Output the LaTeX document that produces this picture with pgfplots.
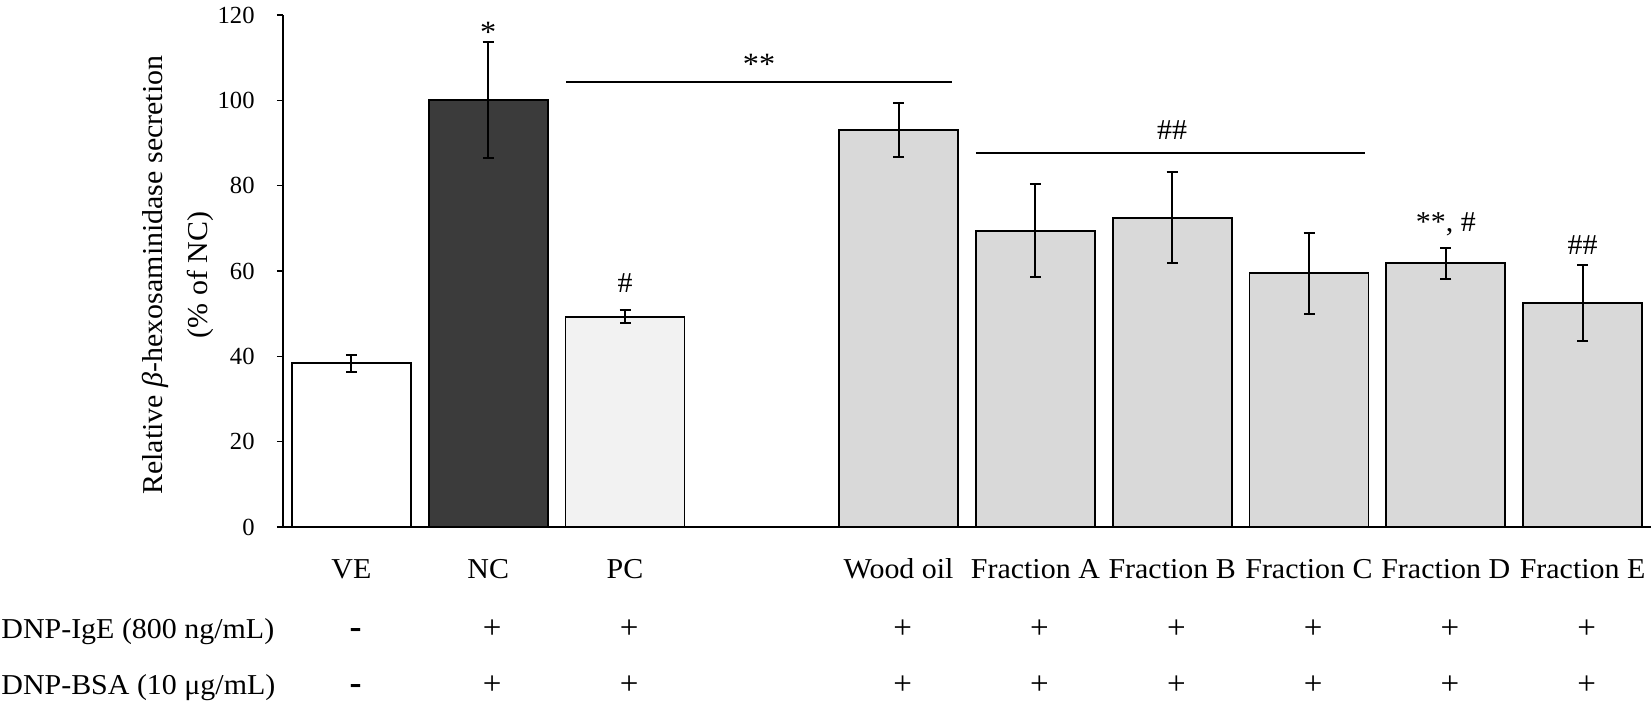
\documentclass[border=0pt]{standalone}
\usepackage{pgfplots}
\pgfplotsset{compat=1.18}
\usepackage{fontspec}
\setmainfont{Liberation Serif}
\newfontfamily\lblfont{Liberation Serif}[FakeStretch=1.04]
\newcommand{\lbl}{\lblfont\fontsize{14.4}{16}\selectfont}
\definecolor{ncgray}{HTML}{3B3B3B}
\definecolor{pcgray}{HTML}{F2F2F2}
\definecolor{frgray}{HTML}{D9D9D9}
\begin{document}
\begin{tikzpicture}
\begin{axis}[name=ax, scale only axis, width=684pt, height=256pt,
  xmin=-0.5, xmax=9.5, ymin=0, ymax=120,
  axis x line*=bottom, axis y line*=left,
  axis line style={line width=0.8pt, -},
  ytick={0,20,...,120}, tick align=outside, major tick length=3pt,
  ytick style={line width=0.8pt, black},
  xtick={0,1,2,4,5,6,7,8,9},
  xticklabels={VE,NC,PC,Wood oil,Fraction A,Fraction B,Fraction C,Fraction D,Fraction E},
  xtick style={draw=none},
  /pgf/number format/assume math mode=true,
  yticklabel style={font=\fontsize{12.3}{14}\selectfont, inner sep=0pt, xshift=-11pt},
  xticklabel style={font=\lbl, anchor=base, inner sep=0pt, yshift=-23pt},
  ylabel={Relative \textit{β}-hexosaminidase secretion\\(\% of NC)},
  ylabel style={at={(axis description cs:-0.0504,0.492)}, anchor=south, inner sep=0pt,
     align=center, font=\lblfont\fontsize{14.4}{22.5}\selectfont},
  ybar, bar width=59.5pt, clip=false,
  error bars/y dir=both, error bars/y explicit,
  error bars/error mark options={rotate=90, mark size=2.75pt, line width=1pt, black},
  error bars/error bar style={line width=1pt, black},
]
\addplot[bar shift=0pt, draw=black, line width=0.9pt, fill=white] coordinates {(0,38.35) +- (0,2.05)};
\addplot[bar shift=0pt, draw=black, line width=0.9pt, fill=ncgray] coordinates {(1,100.0) +- (0,13.6)};
\addplot[bar shift=0pt, draw=black, line width=0.9pt, fill=pcgray] coordinates {(2,49.3) +- (0,1.5)};
\addplot[bar shift=0pt, draw=black, line width=0.9pt, fill=frgray] coordinates {
  (4,93.0) +- (0,6.3)
  (5,69.45) +- (0,10.85)
  (6,72.5) +- (0,10.7)
  (7,59.5) +- (0,9.5)
  (8,61.8) +- (0,3.6)
  (9,52.5) +- (0,8.8)
};
% significance lines
\draw[line width=1.25pt] (axis cs:1.57,104.3) -- (axis cs:4.39,104.3);
\draw[line width=1.25pt] (axis cs:4.565,87.6) -- (axis cs:7.41,87.6);
\node[font=\lblfont\fontsize{15.5}{16}\selectfont, anchor=base, inner sep=0pt] at (axis cs:2.98,106) {**};
\node[font=\lbl, anchor=base, inner sep=0pt] at (axis cs:6,90.9) {\#\#};
\node[font=\lblfont\fontsize{15.5}{16}\selectfont, anchor=base, inner sep=0pt] at (axis cs:1,113.5) {*};
\node[font=\lbl, anchor=base, inner sep=0pt] at (axis cs:2,54.9) {\#};
\node[font=\lbl, anchor=base, inner sep=0pt] at (axis cs:8,69.2) {**, \#};
\node[font=\lbl, anchor=base, inner sep=0pt] at (axis cs:9,63.8) {\#\#};
% treatment rows
\node[font=\fontsize{18}{18}\selectfont\bfseries, anchor=base, inner sep=0pt, yshift=-56pt] at (axis cs:0.03,0) {-};
\node[font=\fontsize{18}{18}\selectfont\bfseries, anchor=base, inner sep=0pt, yshift=-84pt] at (axis cs:0.03,0) {-};
\pgfplotsinvokeforeach{1,2,4,5,6,7,8,9}{
  \node[font=\fontsize{16.5}{16}\selectfont, anchor=base, inner sep=0pt, yshift=-56pt] at (axis cs:#1+0.03,0) {+};
  \node[font=\fontsize{16.5}{16}\selectfont, anchor=base, inner sep=0pt, yshift=-84pt] at (axis cs:#1+0.03,0) {+};
}
\end{axis}
\pgfresetboundingbox
\path[use as bounding box] ([shift={(-141.5pt,-94.5pt)}]ax.south west) rectangle ([shift={(0.5pt,7.5pt)}]ax.north east);
\node[font=\lbl, anchor=base west, inner sep=0pt] at ([shift={(-141pt,-56pt)}]ax.south west) {DNP-IgE (800 ng/mL)};
\node[font=\lbl, anchor=base west, inner sep=0pt] at ([shift={(-141pt,-84pt)}]ax.south west) {DNP-BSA (10 μg/mL)};
\end{tikzpicture}
\end{document}
